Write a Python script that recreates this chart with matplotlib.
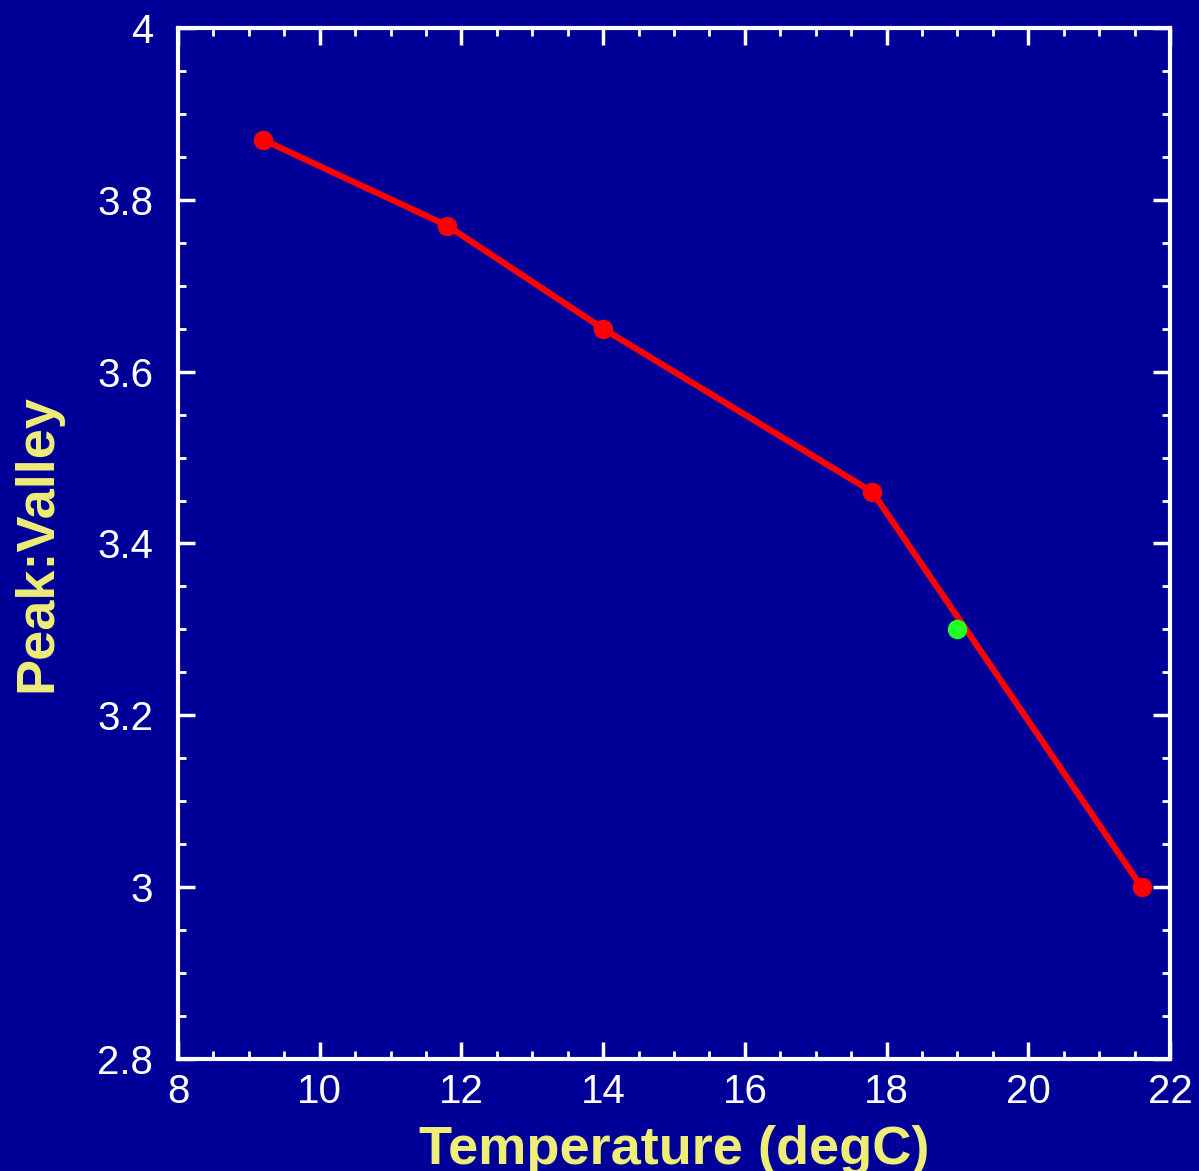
import matplotlib
matplotlib.use("Agg")
import matplotlib.pyplot as plt
from matplotlib.ticker import MultipleLocator, FuncFormatter

temps = [9.2, 11.8, 14.0, 17.8, 21.6]
ratios = [3.87, 3.77, 3.65, 3.46, 3.00]
extra_temp = [19.0]
extra_ratio = [3.30]

bg = "#000099"
yellow = "#eeee77"
plt.rcParams['font.family'] = ['Liberation Sans', 'DejaVu Sans']

fig = plt.figure(figsize=(11.99, 11.71), dpi=100, facecolor=bg)
ax = fig.add_axes([178/1199, 1 - 1059/1171, (1170-178)/1199, (1059-28)/1171])
ax.set_facecolor(bg)

ax.plot(temps, ratios, color="#ff0000", lw=4.5, marker="o", ms=13, mec="#ff0000", zorder=3)
ax.plot(extra_temp, extra_ratio, ls="none", marker="o", ms=13, color="#22ff22", mec="#22ff22", zorder=4)

ax.set_xlim(8, 22)
ax.set_ylim(2.8, 4.0)
ax.xaxis.set_major_locator(MultipleLocator(2))
ax.xaxis.set_minor_locator(MultipleLocator(0.5))
ax.yaxis.set_major_locator(MultipleLocator(0.2))
ax.yaxis.set_minor_locator(MultipleLocator(0.05))

def fmt(v, pos):
    s = f"{v:.1f}"
    return s.rstrip('0').rstrip('.')
ax.xaxis.set_major_formatter(FuncFormatter(lambda v, p: f"{int(round(v))}"))
ax.yaxis.set_major_formatter(FuncFormatter(fmt))

for s in ax.spines.values():
    s.set_color("white")
    s.set_linewidth(3)

ax.tick_params(which="both", direction="in", top=True, right=True, colors="white")
ax.tick_params(which="major", length=12, width=2.5, labelsize=29)
ax.tick_params(axis="x", which="major", pad=10)
ax.tick_params(axis="y", which="major", pad=18)
ax.tick_params(which="minor", length=6, width=2)

ax.set_xlabel("Temperature (degC)", color=yellow, fontsize=39, fontweight="bold", labelpad=10)
ax.set_ylabel("Peak:Valley", color=yellow, fontsize=39, fontweight="bold", labelpad=25)

fig.savefig("out.png", dpi=100, facecolor=bg)
